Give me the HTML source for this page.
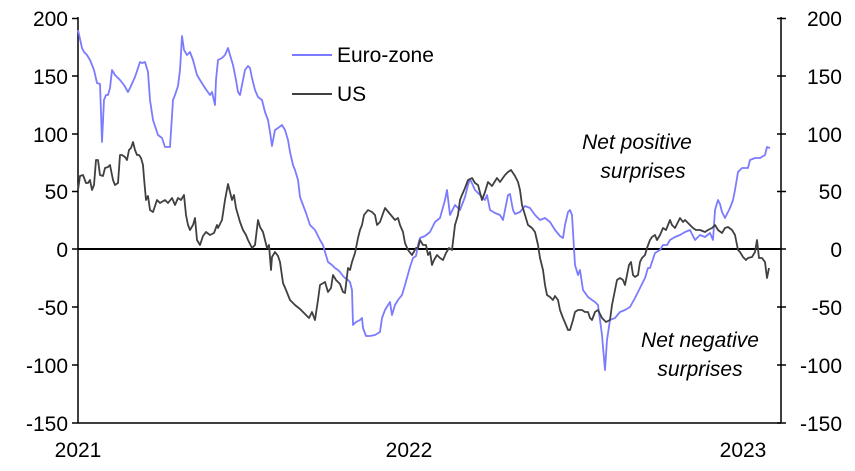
<!DOCTYPE html>
<html><head><style>
body{margin:0;background:#fff;}
svg text{font-family:"Liberation Sans",sans-serif;font-size:21px;fill:#000;}
</style></head><body>
<svg width="855" height="466" viewBox="0 0 855 466" xmlns="http://www.w3.org/2000/svg">
<g stroke="#000" stroke-width="1.5" fill="none">
<line x1="78" y1="17" x2="78" y2="423"/>
<line x1="781" y1="17" x2="781" y2="423"/>
<line x1="78" y1="423" x2="781" y2="423"/>
<line x1="78" y1="249" x2="781" y2="249" stroke-width="2"/>
<path d="M72 18.5H78M72 76H78M72 134H78M72 191.5H78M72 249H78M72 307H78M72 365H78M72 423H78"/>
<path d="M777 18.5H786M777 76H786M777 134H786M777 191.5H786M777 249H786M777 307H786M777 365H786M777 423H786"/>
</g>
<g text-anchor="end">
<text x="68" y="26">200</text><text x="68" y="84">150</text><text x="68" y="142">100</text><text x="68" y="199">50</text><text x="68" y="257">0</text><text x="68" y="315">-50</text><text x="68" y="373">-100</text><text x="68" y="431">-150</text>
</g>
<g text-anchor="end">
<text x="842" y="26">200</text><text x="842" y="84">150</text><text x="842" y="142">100</text><text x="842" y="199">50</text><text x="842" y="257">0</text><text x="842" y="315">-50</text><text x="842" y="373">-100</text><text x="842" y="431">-150</text>
</g>
<g text-anchor="middle">
<text x="78" y="457">2021</text><text x="409" y="457">2022</text><text x="743" y="457">2023</text>
</g>
<g text-anchor="middle">
<text x="637" y="149" style="font-style:italic">Net positive</text>
<text x="643" y="178" style="font-style:italic">surprises</text>
<text x="700" y="347" style="font-style:italic">Net negative</text>
<text x="700" y="376" style="font-style:italic">surprises</text>
</g>
<line x1="292" y1="55" x2="332" y2="55" stroke="#7b7bff" stroke-width="2"/>
<text x="337" y="62">Euro-zone</text>
<line x1="292" y1="94" x2="332" y2="94" stroke="#404040" stroke-width="2"/>
<text x="337" y="101">US</text>
<polyline fill="none" stroke="#7b7bff" stroke-width="1.8" stroke-linejoin="round" points="78,30 82,48 84,52 87,55 90,60 94,70 97,83 100,84 102,142 104,100 106,95 108,95 110,88 112,70 115,75 120,80 124,85 128,92 130,88 135,77 138,68 140,62 142,63 145,62 148,72 150,100 153,120 158,135 162,138 165,147 170,147 173,100 175,95 178,86 180,70 182,36 184,50 187,55 190,52 193,60 197,75 200,80 205,88 210,95 212,92 215,105 216,80 218,60 222,58 225,55 228,48 230,55 233,65 236,80 238,92 240,95 243,80 245,70 248,66 250,68 252,78 255,90 258,97 262,100 265,112 268,120 270,132 272,146 275,130 278,128 282,125 285,130 288,140 290,152 293,165 295,170 298,180 300,197 303,205 306,213 310,225 315,230 320,240 323,245 325,252 328,262 332,265 335,268 338,270 340,272 343,276 345,278 348,280 350,282 352,290 353,325 356,322 360,320 362,318 363,328 366,336 370,336 375,335 380,332 382,318 385,310 388,305 390,302 392,315 395,305 398,300 402,295 405,285 410,267 413,258 416,256 418,245 420,238 425,236 430,232 435,222 440,218 445,200 447,190 450,215 455,205 460,210 465,197 468,185 470,179 475,190 480,195 485,200 487,195 490,210 495,213 500,215 503,220 505,210 508,195 510,194 513,210 515,214 520,212 525,206 530,208 535,215 540,220 545,218 550,222 555,230 560,236 563,238 565,225 568,212 570,210 572,215 575,265 578,275 580,270 583,290 588,297 592,300 595,302 598,305 600,320 602,335 603,347 605,370 607,340 610,320 615,318 620,312 625,310 630,307 635,298 640,288 645,278 648,268 650,268 655,253 660,250 663,245 667,245 670,240 675,237 680,235 685,232 690,230 695,240 700,235 705,237 710,233 713,240 715,210 718,200 720,204 722,212 725,218 730,208 733,200 735,190 738,172 742,168 748,168 750,160 755,158 760,158 765,155 767,147 770,148"/>
<polyline fill="none" stroke="#404040" stroke-width="1.8" stroke-linejoin="round" points="78,190 80,176 83,175 86,183 88,183 90,180 92,190 94,185 96,160 98,160 100,175 103,176 105,168 108,167 110,165 113,180 115,185 118,183 120,155 122,155 125,157 127,160 129,150 131,148 133,142 135,150 137,155 139,155 141,158 143,165 144,178 146,200 148,196 150,210 153,212 157,200 160,203 165,200 168,203 172,198 175,205 178,198 181,200 184,195 186,215 188,225 190,230 193,225 195,218 197,240 200,245 203,236 206,232 210,235 214,233 217,225 218,228 222,220 225,200 228,184 232,200 234,195 236,208 240,222 243,230 246,235 248,240 250,244 252,248 255,245 258,220 260,227 263,232 265,240 267,248 269,245 271,270 272,257 275,252 278,256 280,262 283,283 286,290 290,300 295,305 300,309 304,313 309,318 312,312 315,320 318,300 320,285 325,282 328,292 331,288 333,275 336,280 340,284 343,292 345,293 348,268 350,270 352,262 355,253 358,238 360,230 362,225 364,215 368,210 372,212 375,215 377,225 380,222 385,208 390,214 395,220 398,218 400,225 403,232 405,243 408,250 412,255 416,248 418,248 420,240 423,245 426,245 428,255 430,252 432,265 434,260 437,255 440,258 443,260 446,253 449,248 452,250 455,225 458,215 460,200 462,195 465,188 468,180 472,178 475,183 478,185 482,200 485,192 488,182 492,186 497,178 500,182 505,175 508,172 511,170 515,176 518,182 520,190 522,205 525,215 528,225 532,228 535,232 538,245 540,258 543,270 545,285 547,295 550,297 553,300 555,296 558,300 560,310 563,318 566,325 568,330 570,330 573,320 575,312 578,310 582,310 585,312 588,312 590,318 592,320 595,312 598,310 602,318 606,322 610,320 612,305 615,290 617,280 620,278 623,280 625,285 627,275 629,265 631,262 633,275 635,277 638,275 640,262 642,258 645,255 647,248 650,240 652,237 655,235 657,240 660,235 663,228 666,230 668,225 670,220 672,225 675,228 678,222 680,218 683,222 685,220 690,225 693,228 696,230 700,230 705,232 708,230 712,228 715,225 718,230 722,233 725,228 728,227 732,230 735,235 738,250 740,252 743,257 746,260 748,258 752,257 755,252 757,240 759,258 762,258 765,262 767,278 769,268"/>
</svg>
</body></html>
